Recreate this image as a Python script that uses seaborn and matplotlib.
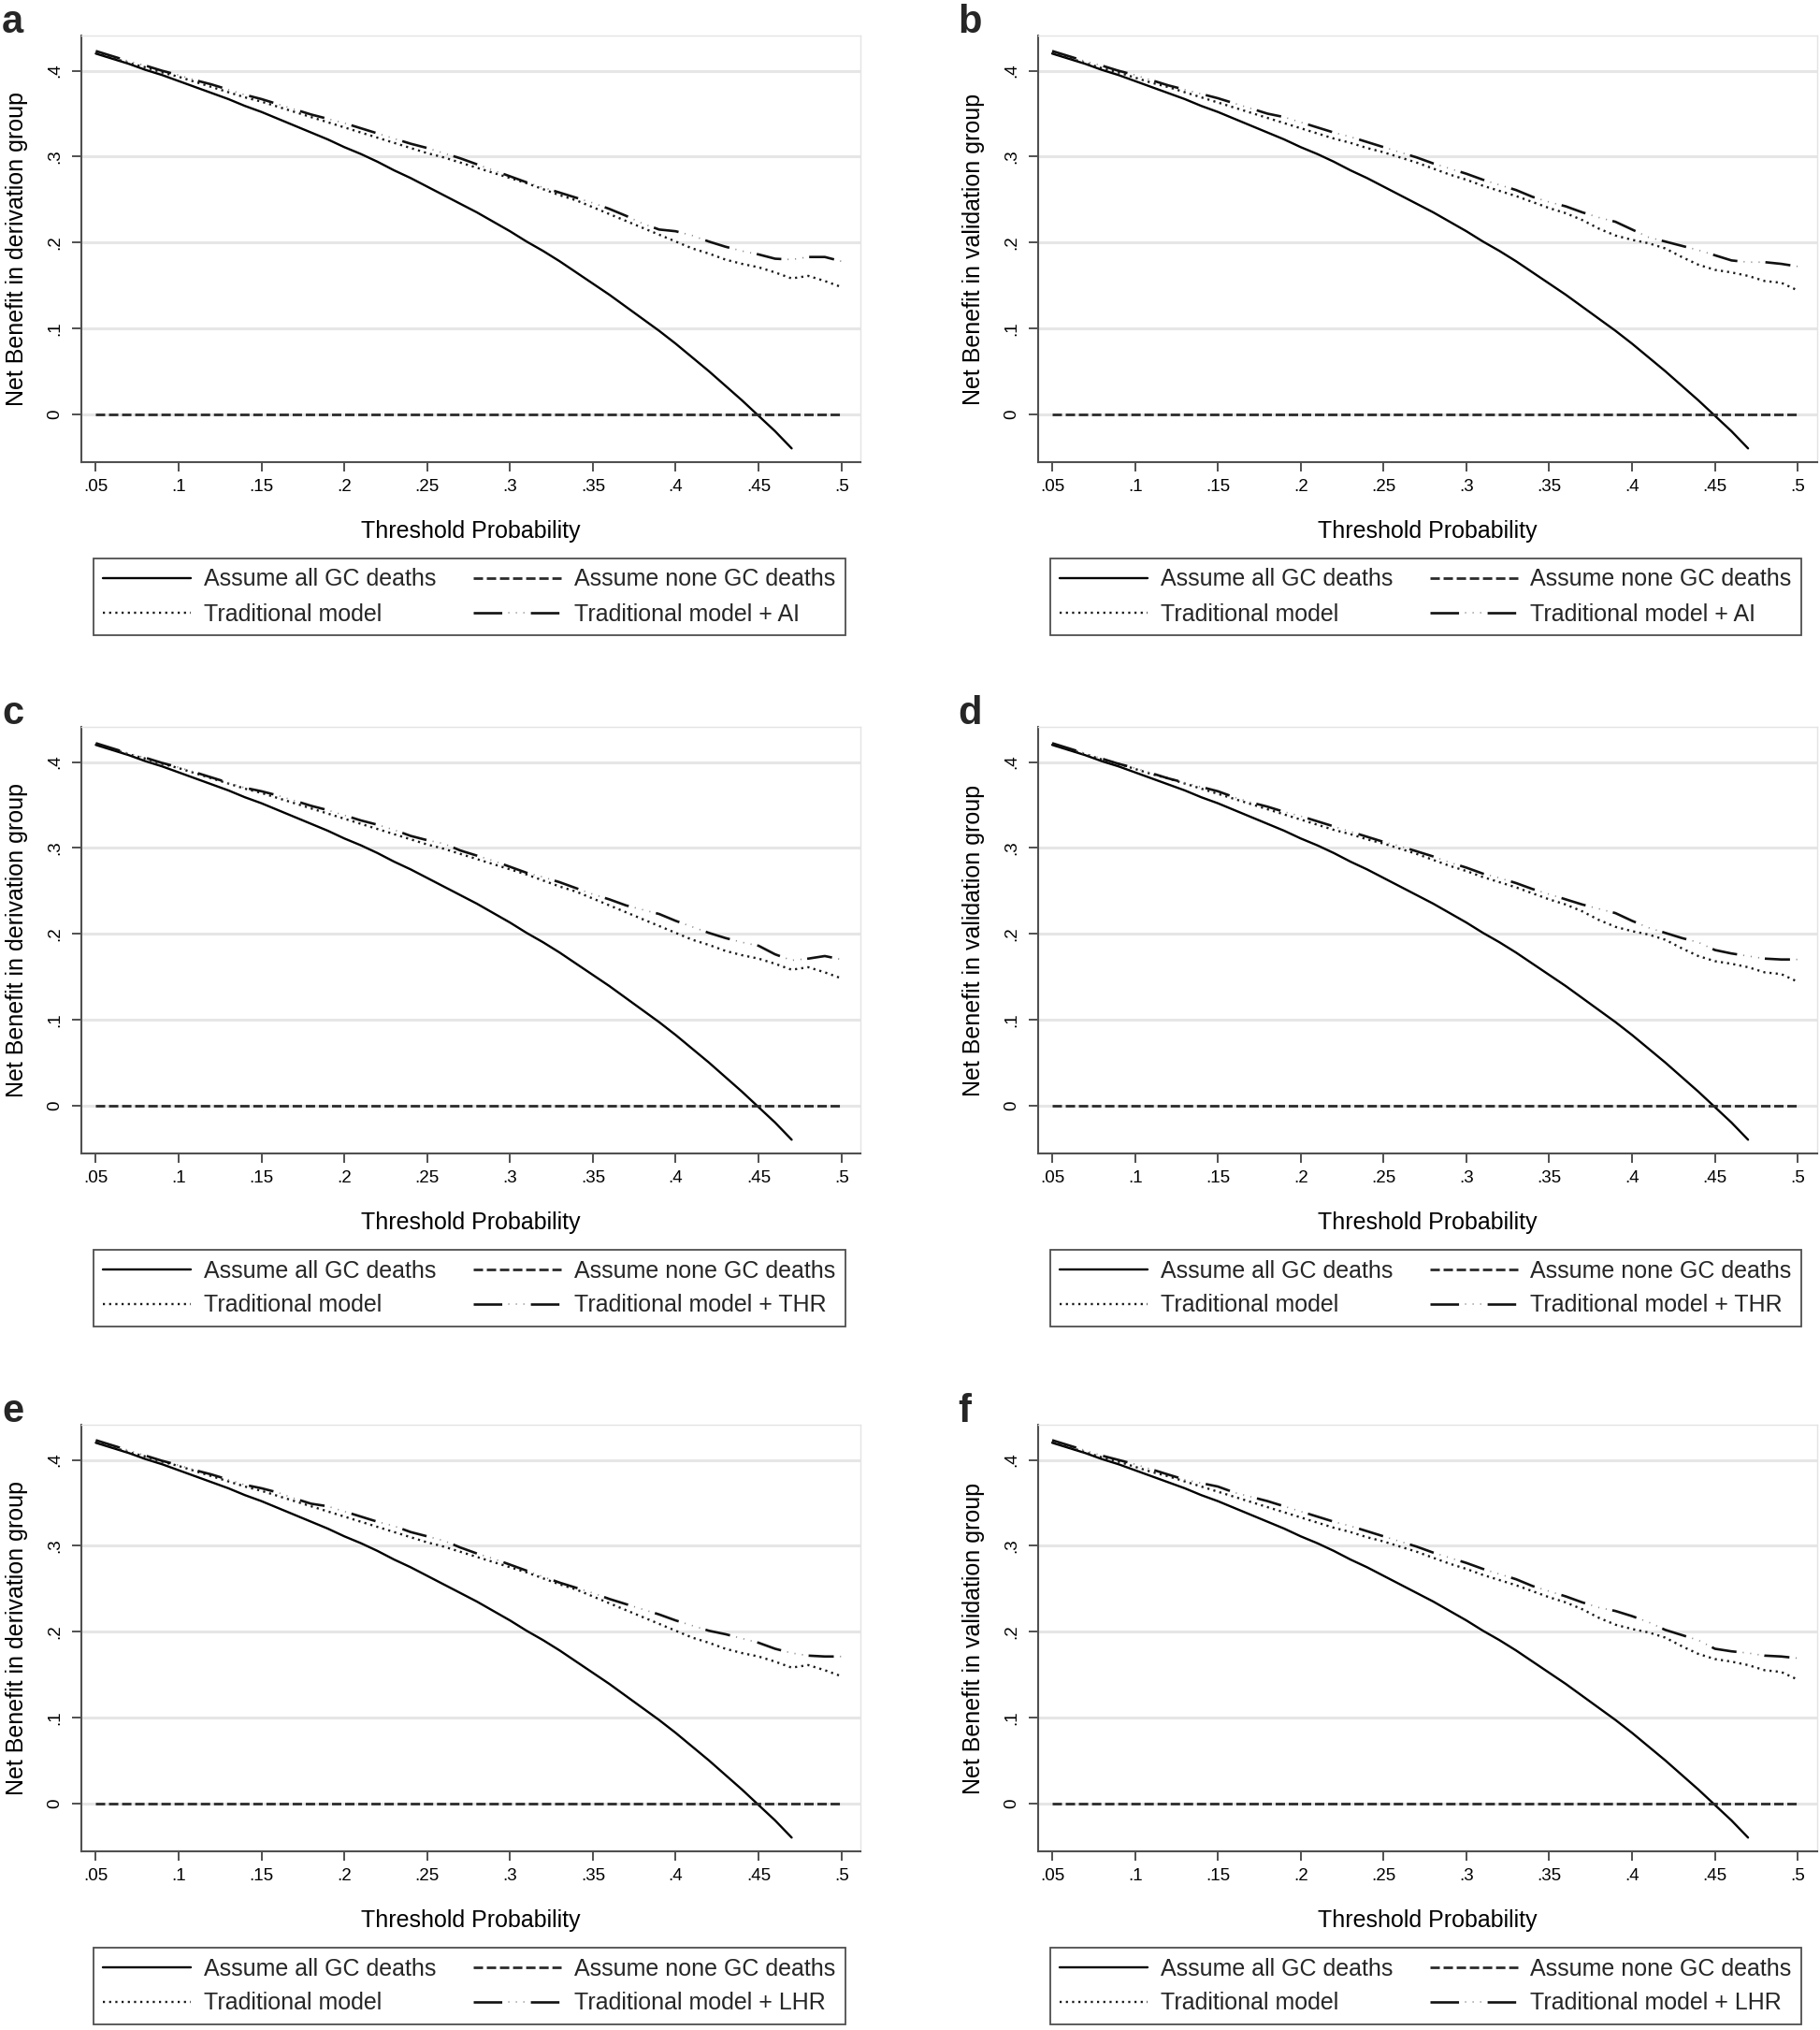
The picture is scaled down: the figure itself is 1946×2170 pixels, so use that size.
import matplotlib
matplotlib.use('Agg')
import matplotlib.pyplot as plt
from matplotlib.lines import Line2D
import seaborn as sns

# threshold probabilities (x) and tick labels
thresholds = [0.05, 0.06, 0.07, 0.08, 0.09, 0.10, 0.11, 0.12, 0.13, 0.14,
              0.15, 0.16, 0.17, 0.18, 0.19, 0.20, 0.21, 0.22, 0.23, 0.24,
              0.25, 0.26, 0.27, 0.28, 0.29, 0.30, 0.31, 0.32, 0.33, 0.34,
              0.35, 0.36, 0.37, 0.38, 0.39, 0.40, 0.41, 0.42, 0.43, 0.44,
              0.45, 0.46, 0.47, 0.48, 0.49, 0.50]
xtick_values = [0.05, 0.1, 0.15, 0.2, 0.25, 0.3, 0.35, 0.4, 0.45, 0.5]
xtick_labels = ['.05', '.1', '.15', '.2', '.25', '.3', '.35', '.4', '.45', '.5']
ytick_values = [0, 0.1, 0.2, 0.3, 0.4]
ytick_labels = ['0', '.1', '.2', '.3', '.4']

# "Assume all GC deaths" (0.05 .. 0.47)
treat_all = [0.420, 0.414, 0.408, 0.401, 0.395, 0.388, 0.381, 0.374, 0.367, 0.359,
             0.352, 0.344, 0.336, 0.328, 0.320, 0.311, 0.303, 0.294, 0.284, 0.275,
             0.265, 0.255, 0.245, 0.235, 0.224, 0.213, 0.201, 0.190, 0.178, 0.165,
             0.152, 0.139, 0.125, 0.111, 0.097, 0.082, 0.066, 0.050, 0.033, 0.016,
             -0.002, -0.020, -0.040]
# "Assume none GC deaths"
treat_none_x = [0.05, 0.50]
treat_none = [0.0, 0.0]

trad_deriv = [0.421, 0.415, 0.409, 0.404, 0.398, 0.393, 0.387, 0.381, 0.375, 0.369,
              0.364, 0.358, 0.352, 0.346, 0.340, 0.334, 0.328, 0.322, 0.316, 0.310,
              0.304, 0.299, 0.293, 0.287, 0.281, 0.275, 0.269, 0.262, 0.255, 0.249,
              0.241, 0.233, 0.225, 0.217, 0.209, 0.201, 0.193, 0.187, 0.180, 0.175,
              0.171, 0.165, 0.158, 0.161, 0.155, 0.148]
trad_valid = [0.421, 0.415, 0.409, 0.403, 0.398, 0.392, 0.386, 0.381, 0.375, 0.369,
              0.363, 0.357, 0.351, 0.345, 0.339, 0.333, 0.327, 0.321, 0.316, 0.310,
              0.305, 0.299, 0.293, 0.286, 0.279, 0.273, 0.266, 0.260, 0.254, 0.247,
              0.240, 0.234, 0.226, 0.216, 0.208, 0.203, 0.199, 0.193, 0.183, 0.174,
              0.168, 0.165, 0.161, 0.155, 0.153, 0.144]

ai_deriv = [0.423, 0.417, 0.411, 0.406, 0.400, 0.395, 0.389, 0.384, 0.378, 0.372,
            0.367, 0.361, 0.355, 0.349, 0.344, 0.339, 0.333, 0.327, 0.321, 0.315,
            0.310, 0.304, 0.298, 0.291, 0.284, 0.277, 0.270, 0.264, 0.258, 0.252,
            0.246, 0.239, 0.231, 0.222, 0.215, 0.213, 0.208, 0.201, 0.195, 0.190,
            0.186, 0.181, 0.180, 0.183, 0.183, 0.178]
ai_valid = [0.423, 0.417, 0.411, 0.406, 0.400, 0.395, 0.389, 0.383, 0.378, 0.373,
            0.368, 0.362, 0.356, 0.350, 0.346, 0.340, 0.334, 0.328, 0.323, 0.317,
            0.311, 0.305, 0.299, 0.292, 0.286, 0.280, 0.273, 0.267, 0.261, 0.253,
            0.247, 0.242, 0.235, 0.229, 0.224, 0.215, 0.206, 0.201, 0.196, 0.191,
            0.185, 0.179, 0.177, 0.177, 0.175, 0.172]
thr_deriv = [0.422, 0.416, 0.410, 0.405, 0.399, 0.394, 0.388, 0.382, 0.376, 0.370,
             0.366, 0.361, 0.355, 0.349, 0.344, 0.338, 0.332, 0.327, 0.321, 0.314,
             0.309, 0.305, 0.297, 0.291, 0.285, 0.278, 0.271, 0.266, 0.260, 0.253,
             0.246, 0.240, 0.233, 0.228, 0.223, 0.215, 0.208, 0.201, 0.195, 0.190,
             0.186, 0.176, 0.169, 0.171, 0.174, 0.170]
thr_valid = [0.422, 0.416, 0.410, 0.404, 0.398, 0.393, 0.387, 0.381, 0.376, 0.371,
             0.366, 0.359, 0.353, 0.348, 0.342, 0.337, 0.331, 0.325, 0.319, 0.313,
             0.307, 0.302, 0.296, 0.290, 0.283, 0.277, 0.270, 0.265, 0.259, 0.252,
             0.246, 0.240, 0.234, 0.229, 0.224, 0.215, 0.207, 0.201, 0.195, 0.190,
             0.181, 0.177, 0.174, 0.171, 0.170, 0.170]
lhr_deriv = [0.423, 0.417, 0.411, 0.405, 0.399, 0.394, 0.388, 0.383, 0.377, 0.371,
             0.367, 0.362, 0.355, 0.349, 0.346, 0.340, 0.334, 0.328, 0.323, 0.316,
             0.311, 0.306, 0.298, 0.291, 0.285, 0.278, 0.271, 0.264, 0.257, 0.251,
             0.245, 0.238, 0.232, 0.226, 0.220, 0.213, 0.207, 0.201, 0.197, 0.192,
             0.187, 0.180, 0.175, 0.172, 0.171, 0.171]
lhr_valid = [0.423, 0.417, 0.411, 0.405, 0.400, 0.395, 0.389, 0.383, 0.377, 0.373,
             0.369, 0.362, 0.357, 0.352, 0.346, 0.340, 0.334, 0.328, 0.323, 0.317,
             0.311, 0.305, 0.299, 0.292, 0.286, 0.280, 0.273, 0.267, 0.261, 0.253,
             0.247, 0.241, 0.234, 0.228, 0.224, 0.218, 0.211, 0.202, 0.196, 0.190,
             0.180, 0.177, 0.175, 0.172, 0.171, 0.169]

panels = [
    ('a', 'Net Benefit in derivation group', trad_deriv, ai_deriv, 'Traditional model + AI'),
    ('b', 'Net Benefit in validation group', trad_valid, ai_valid, 'Traditional model + AI'),
    ('c', 'Net Benefit in derivation group', trad_deriv, thr_deriv, 'Traditional model + THR'),
    ('d', 'Net Benefit in validation group', trad_valid, thr_valid, 'Traditional model + THR'),
    ('e', 'Net Benefit in derivation group', trad_deriv, lhr_deriv, 'Traditional model + LHR'),
    ('f', 'Net Benefit in validation group', trad_valid, lhr_valid, 'Traditional model + LHR'),
]

sns.set_theme(style="white")
plt.rcParams['font.family'] = ['Liberation Sans', 'DejaVu Sans']
plt.rcParams['lines.scale_dashes'] = False

W, H = 1946, 2170
fig = plt.figure(figsize=(W / 100, H / 100), dpi=100)
col_off = [0, 1022.6]
row_off = [0, 739, 1485]

ls_none = (0, (7.2, 2.9))
ls_trad = (0, (1.6, 3.2))
ls_model = (0, (19.4, 21.6))
ls_model_dots = (16.8, (0.8, 5.0, 0.8, 5.0, 0.8, 28.6))
axis_col = '#505050'

for i, (letter, ylab, trad, model, model_label) in enumerate(panels):
    r, c = divmod(i, 2)
    x0, x1 = 87 + col_off[c], 920 + col_off[c]
    y0, y1 = 38 + row_off[r], 494 + row_off[r]
    ax = fig.add_axes([x0 / W, 1 - y1 / H, (x1 - x0) / W, (y1 - y0) / H])

    sns.lineplot(x=thresholds[:len(treat_all)], y=treat_all, ax=ax,
                 color='black', linewidth=1.7)
    sns.lineplot(x=treat_none_x, y=treat_none, ax=ax,
                 color='#2b2b2b', linewidth=2.0, linestyle=ls_none)
    sns.lineplot(x=thresholds, y=trad, ax=ax,
                 color='#1a1a1a', linewidth=1.7, linestyle=ls_trad)
    sns.lineplot(x=thresholds, y=model, ax=ax,
                 color='#111111', linewidth=1.9, linestyle=ls_model)
    sns.lineplot(x=thresholds, y=model, ax=ax,
                 color='#8a8a8a', linewidth=1.2, linestyle=ls_model_dots)

    ax.set_xlim(0.0413, 0.5115)
    ax.set_ylim(-0.056, 0.441)
    ax.set_xticks(xtick_values)
    ax.set_xticklabels(xtick_labels)
    ax.set_yticks(ytick_values)
    ax.set_yticklabels(ytick_labels, rotation=90, va='center')
    ax.yaxis.grid(True, color='#e6e6e6', linewidth=2.2)
    ax.xaxis.grid(False)
    ax.set_axisbelow(True)
    ax.tick_params(axis='both', direction='out', length=7, width=1.4,
                   color=axis_col, labelsize=13.5, labelcolor='black')
    ax.tick_params(axis='x', bottom=True, pad=6)
    ax.tick_params(axis='y', left=True, pad=7)
    for side in ['left', 'bottom']:
        ax.spines[side].set_color(axis_col)
        ax.spines[side].set_linewidth(1.5)
    for side in ['top', 'right']:
        ax.spines[side].set_color('#e4e4e4')
        ax.spines[side].set_linewidth(1.0)

    ax.set_xlabel('Threshold Probability', fontsize=18, color='black')
    ax.xaxis.set_label_coords(0.5, -0.137)
    ax.set_ylabel(ylab, fontsize=18, color='black')
    ax.yaxis.set_label_coords(-0.068, 0.5)

    fig.text((0 + col_off[c] + 2) / W, 1 - (4 + row_off[r]) / H, letter,
             fontsize=30, fontweight='bold', ha='left', va='top')

    h_all = Line2D([], [], color='black', linewidth=1.7)
    h_none = Line2D([], [], color='#2b2b2b', linewidth=2.0, linestyle=ls_none)
    h_trad = Line2D([], [], color='#1a1a1a', linewidth=1.7, linestyle=ls_trad)
    h_model = Line2D([], [], color='#111111', linewidth=1.9, linestyle=(0, (22, 22)))
    h_dots = Line2D([], [], color='#8a8a8a', linewidth=1.2,
                    linestyle=(17, (0.8, 5.0, 0.8, 5.0, 0.8, 31.6)))
    lcx, ly0 = 501.8 + col_off[c], 597 + row_off[r]
    leg = ax.legend([h_all, h_trad, h_none, (h_model, h_dots)],
                    ['Assume all GC deaths', 'Traditional model',
                     'Assume none GC deaths', model_label],
                    ncol=2, loc='upper center',
                    bbox_to_anchor=(lcx / W, 1 - ly0 / H),
                    bbox_transform=fig.transFigure, borderaxespad=0,
                    fontsize=18, frameon=True, fancybox=False, edgecolor='#222222',
                    handlelength=3.75, handletextpad=0.55, labelspacing=0.52,
                    borderpad=0.42, columnspacing=1.6)
    leg.get_frame().set_linewidth(1.3)

fig.savefig('out.png', dpi=100, facecolor='white')
